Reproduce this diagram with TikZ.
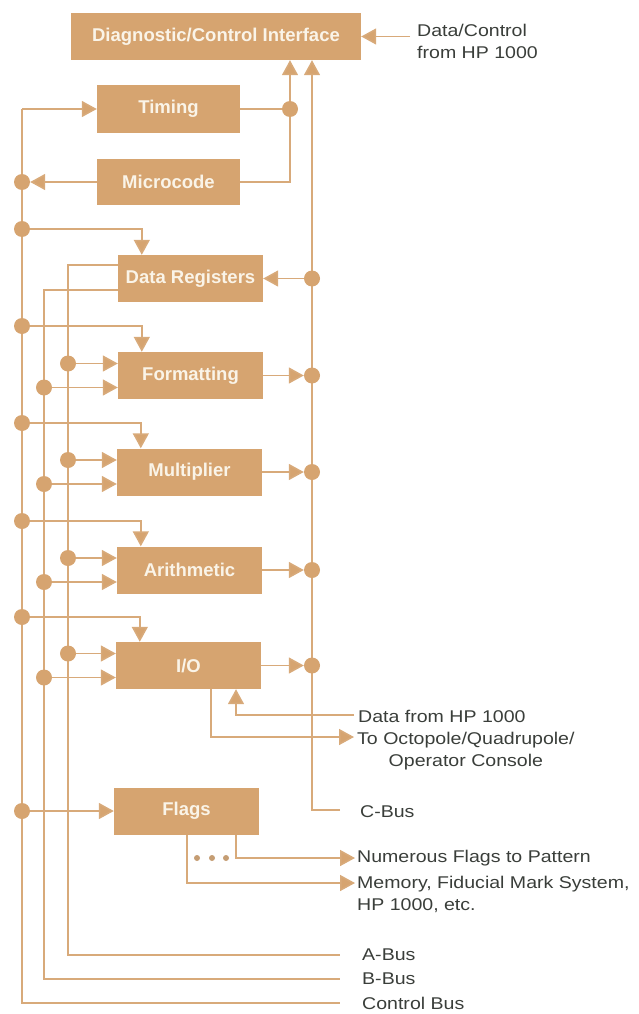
\documentclass[tikz,border=0pt]{standalone}
\usepackage{fontspec}
\setmainfont{Liberation Sans}
\newfontfamily\labfam[FakeStretch=1.15]{Liberation Sans}
\usetikzlibrary{arrows.meta}
\definecolor{boxtan}{RGB}{214,164,112}
\definecolor{linetan}{RGB}{216,170,122}
\definecolor{cream}{RGB}{250,244,232}
\definecolor{ink}{RGB}{58,62,58}
\begin{document}
\begin{tikzpicture}[x=1pt,y=-1pt,
  blk/.style={fill=boxtan, minimum width=145pt, minimum height=47pt, inner sep=0pt,
    text=cream, font=\fontsize{18.5}{20}\selectfont\bfseries},
  bdot/.style={circle, fill=boxtan, minimum size=16pt, inner sep=0pt},
  sdot/.style={circle, fill=boxtan!80!gray, minimum size=6pt, inner sep=0pt},
  ln/.style={draw=linetan, line width=1.6pt},
  arr/.style={ln, -{Triangle[length=15pt,width=16pt,fill=boxtan]}},
  lab/.style={text=ink, font=\labfam\fontsize{17}{22}\selectfont, inner sep=0pt, anchor=west, align=left},
]
\useasboundingbox (0,0) rectangle (638,1014);

% boxes
\node[blk, minimum width=290pt] (dci) at (216,36.5) {Diagnostic/Control Interface};
\node[blk, minimum width=143pt, minimum height=48pt] (tim) at (168.5,109) {Timing};
\node[blk, minimum width=143pt, minimum height=46pt] (mic) at (168.5,182) {Microcode};
\node[blk] (dr)  at (190.5,278.5) {Data Registers};
\node[blk] (fmt) at (190.5,375.5) {Formatting};
\node[blk] (mul) at (189.5,472) {Multiplier};
\node[blk] (ari) at (189.5,570) {Arithmetic};
\node[blk] (io)  at (188.5,665.5) {I/O};
\node[blk] (flg) at (186.5,811) {Flags};

% labels
\node[lab] (tdc) at (417,41) {Data/Control\\from HP 1000};
\node[lab] (thd) at (358,716) {Data from HP 1000};
\node[lab, align=center] (toc) at (357,751) {To Octopole/Quadrupole/\\Operator Console};
\node[lab] (tcb) at (360,812) {C-Bus};
\node[lab] (tnf) at (357,858) {Numerous Flags to Pattern};
\node[lab] (tme) at (357,894) {Memory, Fiducial Mark System,\\HP 1000, etc.};
\node[lab] (tab) at (362,955) {A-Bus};
\node[lab] (tbb) at (362,979) {B-Bus};
\node[lab] (tctl) at (362,1003) {Control Bus};

% free ends
\coordinate (hpin) at (410,36.5);
\coordinate (hpd) at (354,715);
\coordinate (octo) at (354,737);
\coordinate (nfe) at (355,858);
\coordinate (mee) at (355,883);
\coordinate (cEnd) at (340,810);
\coordinate (aEnd) at (340,955);
\coordinate (bEnd) at (340,979);
\coordinate (kEnd) at (340,1003);

% buses
\draw[ln] (tim.west -| 22,0) -- (22,1003) -- (kEnd);
\draw[ln] (dr.west |- 0,265) -| (68,955) -- (aEnd);
\draw[ln] (dr.west |- 0,290) -| (44,979) -- (bEnd);
\draw[arr] (cEnd) -| (dci.south -| 312,0);
\draw[arr] (mic.east) -| (dci.south -| 290,0);
\draw[arr] (hpin) -- (dci.east);

% timing / microcode
\node[bdot] (tdt) at (290,109) {};
\draw[ln] (tim.east) -- (tdt);
\draw[arr] (tim.west -| 22,0) -- (tim.west);
\node[bdot] (kmic) at (22,182) {};
\draw[arr] (mic.west) -- (kmic);

% control bus dots and arrows into box tops
\foreach \b/\y in {dr/229, fmt/326, mul/423, ari/521, io/617}{
  \node[bdot] (k\b) at (22,\y) {};
  \draw[arr] (k\b) -| ([xshift=24pt]\b.north west);
}
\node[bdot] (kflg) at (22,811) {};
\draw[arr] (kflg) -- (flg.west);

% A/B bus inputs
\foreach \b in {fmt, mul, ari, io}{
  \node[bdot] (a\b) at ([yshift=12pt]\b.west -| 68,0) {};
  \node[bdot] (b\b) at ([yshift=-12pt]\b.west -| 44,0) {};
  \draw[arr] (a\b) -- (a\b -| \b.west);
  \draw[arr] (b\b) -- (b\b -| \b.west);
}

% C bus
\node[bdot] (cdr) at (312,278.5) {};
\draw[arr] (cdr) -- (dr.east);
\foreach \b in {fmt, mul, ari, io}{
  \node[bdot] (c\b) at (\b.east -| 312,0) {};
  \draw[arr] (\b.east) -- (c\b);
}

% I/O external
\draw[arr] (io.south -| 211,0) |- (octo);
\draw[arr] (hpd) -| (io.south -| 236,0);

% Flags outputs
\draw[arr] (flg.south -| 236,0) |- (nfe);
\draw[arr] (flg.south -| 187,0) |- (mee);
\node[sdot] (f1) at (197,858) {};
\node[sdot] (f2) at (212,858) {};
\node[sdot] (f3) at (226,858) {};
\end{tikzpicture}
\end{document}
